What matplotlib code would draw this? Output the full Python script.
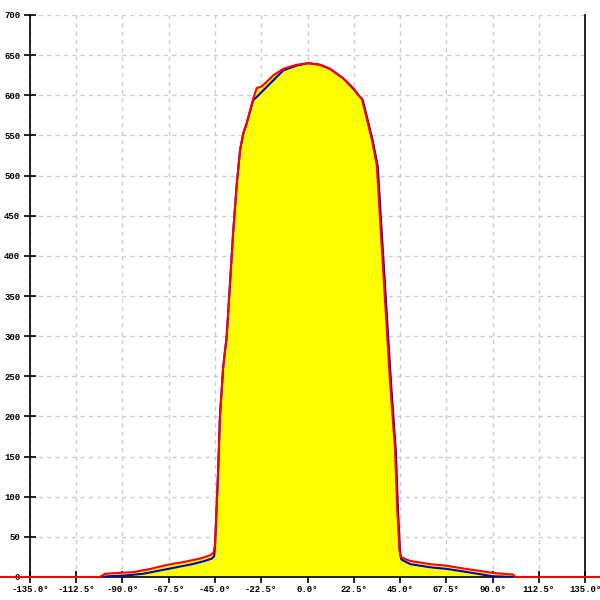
import matplotlib
matplotlib.use("Agg")
import matplotlib.pyplot as plt

# Angle (degrees) and intensity readings for the red curve
red_deg = [-150, -101, -98.5, -92.8, -84.9, -76.6, -68.5, -59.6, -52.3, -47.4, -45.8,
           -45.0, -44.2, -43.4, -42.6, -41.7, -41.0, -39.3, -37.7, -36.2, -34.4,
           -32.8, -31.2, -29.6, -26.4, -24.7, -22.3, -19.8, -16.6, -11.8, -5.3,
           0.4, 6.1, 10.9, 17.4, 22.3, 24.7, 26.4, 28.8, 31.2, 33.7, 35.3, 37.7,
           40.1, 42.6, 43.6, 44.7, 45.3, 49.9, 59.6, 67.7, 77.4,
           90.4, 100.1, 101, 150]
red_val = [0, 0, 4, 5, 6, 10, 15, 19, 23, 27, 30,
           40, 87, 137, 200, 235, 262, 300, 366, 428, 490,
           532, 553, 565, 596, 609, 611, 617, 625, 633, 638,
           640, 638, 633, 621, 609, 600, 596, 571, 546, 513, 445, 345,
           245, 158, 87, 34, 25, 20, 16, 14, 10,
           5, 3, 0, 0]

# Blue curve readings
blue_deg = [-101, -96, -88, -80, -72, -64, -56, -50, -46.5, -45.4,
            -45.0, -44.2, -43.4, -42.6, -41.7, -41.0, -39.3, -37.7, -36.2, -34.4,
            -32.8, -31.2, -29.6, -26.4, -24.7, -11.8, -5.3,
            0.4, 6.1, 10.9, 17.4, 22.3, 25.2, 26.9, 29.3, 31.7, 34.2, 35.8, 38.2,
            40.6, 43.0, 44.0, 45.0, 45.6, 50, 60, 68, 78,
            90, 100.5]
blue_val = [0, 1, 2, 4, 8, 12, 16, 20, 23, 26,
            38, 87, 137, 200, 235, 262, 300, 366, 428, 490,
            532, 553, 565, 594, 598, 631, 637,
            640, 638, 633, 621, 608, 599, 594, 569, 544, 511, 443, 343,
            243, 156, 85, 32, 22, 16, 12, 10, 6,
            1, 0]

x_ticks = [-135, -112.5, -90, -67.5, -45, -22.5, 0, 22.5, 45, 67.5, 90, 112.5, 135]
y_ticks = list(range(0, 701, 50))

fig = plt.figure(figsize=(6, 6), dpi=100)
ax = fig.add_axes([30/600, 23/600, 555/600, 562/600])

ax.fill_between(red_deg, 0, red_val, color="#ffff00", lw=0, zorder=2)
ax.plot(blue_deg, blue_val, color="#0000cc", lw=1.5, zorder=3, solid_joinstyle="round")
ax.plot(red_deg, red_val, color="#ff0000", lw=1.5, zorder=4, clip_on=False,
        solid_joinstyle="round")

ax.set_xlim(-135, 135)
ax.set_ylim(0, 700)
ax.set_xticks(x_ticks)
ax.set_xticklabels([f"{t:.1f}°" for t in x_ticks])
ax.set_yticks(y_ticks)
ax.set_yticklabels([str(t) for t in y_ticks])

ax.grid(True, color="#cccccc", linestyle=(0, (3, 3)), linewidth=1.0, zorder=1)
ax.set_axisbelow(True)

ax.spines["top"].set_visible(False)
ax.spines["left"].set_linewidth(1.2)
ax.spines["right"].set_linewidth(1.2)
ax.spines["bottom"].set_linewidth(1.2)

ax.tick_params(axis="both", direction="inout", length=8, width=1.2,
               labelsize=6.5, pad=2)
ax.tick_params(axis="y", pad=3)
ax.tick_params(right=False, top=False)
for lab in ax.get_xticklabels() + ax.get_yticklabels():
    lab.set_family(["Liberation Mono", "DejaVu Sans Mono"])
    lab.set_fontweight("bold")

fig.savefig("out.png", dpi=100)
